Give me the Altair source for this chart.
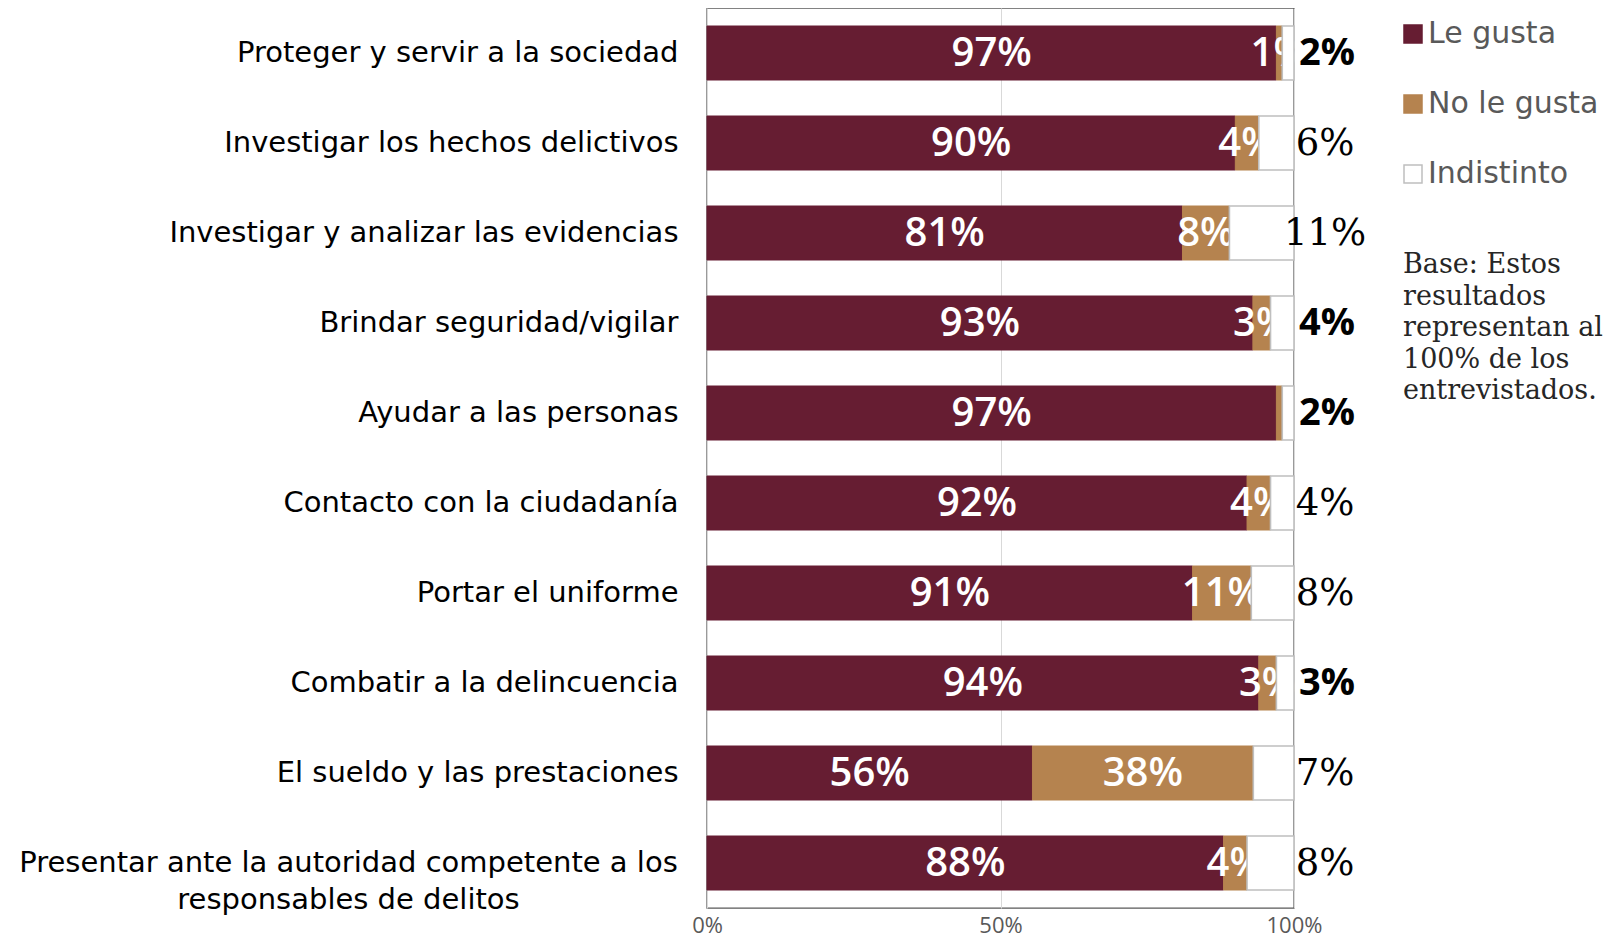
import altair as alt
import pandas as pd

categories = [
    "Proteger y servir a la sociedad",
    "Investigar los hechos delictivos",
    "Investigar y analizar las evidencias",
    "Brindar seguridad/vigilar",
    "Ayudar a las personas",
    "Contacto con la ciudadanía",
    "Portar el uniforme",
    "Combatir a la delincuencia",
    "El sueldo y las prestaciones",
    "Presentar ante la autoridad competente a los|responsables de delitos",
]
le_gusta = [97, 90, 81, 93, 97, 92, 91, 94, 56, 88]
no_le_gusta = [1, 4, 8, 3, 1, 4, 11, 3, 38, 4]
indistinto = [2, 6, 11, 4, 2, 4, 8, 3, 7, 8]
series_names = ["Le gusta", "No le gusta", "Indistinto"]
series_colors = ["#661D32", "#B5834F", "#FFFFFF"]
series_strokes = ["#661D32", "#B5834F", "#BFBFBF"]

# rows whose "Indistinto" label is drawn in bold sans in the original
bold_label_rows = [categories[0], categories[3], categories[4], categories[7]]
# "No le gusta" label not shown in the original for this row
hidden_no_le_gusta = [categories[4]]

base_lines = ["Base: Estos", "resultados", "representan al", "100% de los", "entrevistados."]

rows = []
for i, c in enumerate(categories):
    for j, (s, vals) in enumerate(zip(series_names, [le_gusta, no_le_gusta, indistinto])):
        rows.append({"category": c, "series": s, "value": vals[i], "order": j})
df = pd.DataFrame(rows)

x_scale = alt.Scale(domain=[0, 1], nice=False, zero=True)
y_scale = alt.Scale(paddingInner=0.4, paddingOuter=0.2)
multi = "indexof(datum.value, '|') >= 0"

y_axis = alt.Axis(
    title=None, domain=False, ticks=False,
    labelFont="DejaVu Sans", labelFontSize=29, labelColor="black", labelLimit=0,
    labelExpr="split(datum.label, '|')", labelLineHeight=37,
    labelAlign={"condition": {"test": multi, "value": "center"}, "value": "right"},
    labelPadding={"condition": {"test": multi, "value": 359}, "value": 29},
)
x_axis = alt.Axis(
    title=None, values=[0, 0.5, 1], format="%", grid=True, gridColor="#D9D9D9",
    domain=False, ticks=False, labelFont="Open Sans", labelFontSize=22,
    labelColor="#595959", labelPadding=7, labelFlush=False,
)
legend = alt.Legend(
    title=None, orient="none", legendX=691, legendY=11, symbolType="square",
    symbolSize=324, labelFont="DejaVu Sans", labelFontSize=30, labelColor="#595959",
    rowPadding=40, labelOffset=0, padding=0, symbolStrokeWidth=1.5, labelLimit=0,
)
color = alt.Color("series:N", scale=alt.Scale(domain=series_names, range=series_colors), legend=legend)
stroke = alt.Stroke("series:N", scale=alt.Scale(domain=series_names, range=series_strokes), legend=legend)
Y = alt.Y("category:N", sort=categories, scale=y_scale, axis=y_axis)

base = (
    alt.Chart(df)
    .transform_joinaggregate(total="sum(value)", groupby=["category"])
    .transform_window(cum="sum(value)", sort=[alt.SortField("order")], groupby=["category"], frame=[None, 0])
    .transform_calculate(
        x0="(datum.cum - datum.value) / datum.total",
        x1="datum.cum / datum.total",
        xm="(datum.cum - datum.value / 2) / datum.total",
        label="datum.value + '%'",
    )
)

label_style = dict(font="Open Sans", fontWeight=600, fontSize=40, color="white",
                   baseline="middle", align="center", dy=1)

bars_main = base.transform_filter("datum.series != 'Indistinto'").mark_bar(strokeWidth=1).encode(
    x=alt.X("x0:Q", scale=x_scale, axis=x_axis), x2="x1:Q", y=Y, color=color, stroke=stroke,
)
lg_text = base.transform_filter("datum.series == 'Le gusta'").mark_text(**label_style).encode(
    x=alt.X("xm:Q", scale=x_scale), y=Y, text="label:N")
nlg_text = base.transform_filter(
    alt.FieldEqualPredicate(field="series", equal="No le gusta")
).transform_filter(
    {"not": alt.FieldOneOfPredicate(field="category", oneOf=hidden_no_le_gusta)}
).mark_text(**label_style).encode(x=alt.X("xm:Q", scale=x_scale), y=Y, text="label:N")
bars_ind = base.transform_filter("datum.series == 'Indistinto'").mark_bar(strokeWidth=1.6).encode(
    x=alt.X("x0:Q", scale=x_scale), x2="x1:Q", y=Y, color=color, stroke=stroke,
)
ind_bold = base.transform_filter(
    alt.FieldEqualPredicate(field="series", equal="Indistinto")
).transform_filter(
    alt.FieldOneOfPredicate(field="category", oneOf=bold_label_rows)
).mark_text(
    font="Open Sans", fontWeight="bold", fontSize=38, color="black", baseline="middle", align="center", dx=33, dy=1
).encode(x=alt.X("x1:Q", scale=x_scale), y=Y, text="label:N")
ind_serif = base.transform_filter(
    alt.FieldEqualPredicate(field="series", equal="Indistinto")
).transform_filter(
    {"not": alt.FieldOneOfPredicate(field="category", oneOf=bold_label_rows)}
).mark_text(
    font="DejaVu Serif", fontSize=37, color="black", baseline="middle", align="center", dx=31, dy=1
).encode(x=alt.X("x1:Q", scale=x_scale), y=Y, text="label:N")

note = alt.Chart(pd.DataFrame({"n": [0]})).mark_text(
    text=base_lines, align="left", baseline="alphabetic", font="DejaVu Serif",
    fontSize=27, lineHeight=31.5, color="#262626",
).encode(x=alt.value(696), y=alt.value(265))

chart = alt.layer(bars_main, lg_text, nlg_text, bars_ind, ind_bold, ind_serif, note).properties(
    width=587, height=900,
    padding={"left": 699, "top": 0, "right": 309, "bottom": 31},
    autosize=alt.AutoSizeParams(type="none"),
).configure_view(stroke="#595959", strokeWidth=1.4)

chart.save("out.html", embed_options={"renderer": "svg", "actions": False})
